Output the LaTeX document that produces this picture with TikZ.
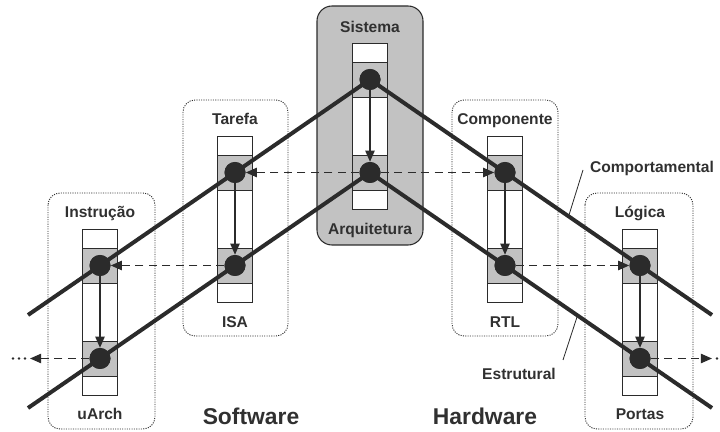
\documentclass[tikz,border=0pt]{standalone}
\usepackage{fontspec}
\setmainfont{Liberation Sans}
\usetikzlibrary{arrows.meta}
\definecolor{ink}{HTML}{2B2B2B}
\definecolor{txt}{HTML}{303030}
\definecolor{panel}{HTML}{C2C2C2}
\begin{document}
\begin{tikzpicture}[x=0.03cm,y=-0.03cm,
  every node/.style={text=txt,font=\bfseries\fontsize{13.3}{15}\selectfont},
  dotnode/.style={circle,fill=ink,draw=none,minimum size=0.63cm,inner sep=0pt},
  tailnode/.style={circle,fill=ink,draw=none,minimum size=2.4pt,inner sep=0pt},
  groupbox/.style={draw=ink,line width=0.8pt,dash pattern=on 0.9pt off 1.1pt,rounded corners=0.36cm},
  sysbox/.style={draw=ink,fill=panel,line width=0.9pt,rounded corners=0.45cm},
  barframe/.style={draw=ink,line width=0.8pt},
  mainline/.style={draw=ink,line width=3.4pt,line cap=butt,line join=miter},
  flow/.style={draw=ink,line width=1.1pt,-{Triangle[length=9.5pt,width=8pt]}},
  xlink/.style={flow,dash pattern=on 7pt off 4.5pt},
  leader/.style={draw=ink,line width=0.7pt},
  biglabel/.style={text=txt,font=\bfseries\fontsize{19.5}{22}\selectfont}]
\useasboundingbox (0,0) rectangle (720,432);

% group frames
\draw[sysbox] (317,6) rectangle (423,245);
\draw[groupbox] (48,193) rectangle (155,429);
\draw[groupbox] (183,100) rectangle (288,336);
\draw[groupbox] (452,100) rectangle (558,336);
\draw[groupbox] (585,193) rectangle (693,429);

% level bars: white body with two grey bands
\foreach \bx/\by in {100/229,235/136,370/43,505/136,640/229}{
  \filldraw[barframe,fill=white] (\bx-17.5,\by) rectangle (\bx+17.5,\by+166);
  \filldraw[barframe,fill=panel] (\bx-17.5,\by+19) rectangle (\bx+17.5,\by+54);
  \filldraw[barframe,fill=panel] (\bx-17.5,\by+112) rectangle (\bx+17.5,\by+147);
}

% group titles
\node[anchor=base] (tSis) at (370,33) {Sistema};
\node[anchor=base] (tArq) at (370,235) {Arquitetura};
\node[anchor=base] (tTar) at (235,125) {Tarefa};
\node[anchor=base] (tIsa) at (235,328) {ISA};
\node[anchor=base] (tCom) at (505,125) {Componente};
\node[anchor=base] (tRtl) at (505,328) {RTL};
\node[anchor=base] (tIns) at (100,218) {Instrução};
\node[anchor=base] (tUar) at (100,420) {uArch};
\node[anchor=base] (tLog) at (640,218) {Lógica};
\node[anchor=base] (tPor) at (640,420) {Portas};

% dots
\node[dotnode] (iA) at (100,265.5) {};
\node[dotnode] (iB) at (100,358.5) {};
\node[dotnode] (tA) at (235,172.5) {};
\node[dotnode] (tB) at (235,265.5) {};
\node[dotnode] (sA) at (370,79.5) {};
\node[dotnode] (sB) at (370,172.5) {};
\node[dotnode] (cA) at (505,172.5) {};
\node[dotnode] (cB) at (505,265.5) {};
\node[dotnode] (lA) at (640,265.5) {};
\node[dotnode] (lB) at (640,358.5) {};

% outer ends
\coordinate (behL) at (28,315);
\coordinate (behR) at (712,315);
\coordinate (strL) at (28,408);
\coordinate (strR) at (712,408);
\coordinate (outL) at (30,358.5);
\coordinate (outR) at (712,358.5);

% refinement inside each level
\draw[flow] (iA) -- (iB);
\draw[flow] (tA) -- (tB);
\draw[flow] (sA) -- (sB);
\draw[flow] (cA) -- (cB);
\draw[flow] (lA) -- (lB);

% cross links between levels
\draw[xlink] (sB) -- (tA);
\draw[xlink] (sB) -- (cA);
\draw[xlink] (tB) -- (iA);
\draw[xlink] (cB) -- (lA);
\draw[xlink] (iB) -- (outL);
\draw[xlink] (lB) -- (outR);
\node[tailnode] (dl1) at (13,358.5) {};
\node[tailnode] (dl2) at (19,358.5) {};
\node[tailnode] (dl3) at (25,358.5) {};
\node[tailnode] (dr1) at (717,358.5) {};
\node[tailnode] (dr2) at (723,358.5) {};

% behavioural and structural views
\draw[mainline] (behL) -- (iA.center) -- (tA.center) -- (sA.center) -- (cA.center) -- (lA.center) -- (behR);
\draw[mainline] (strL) -- (iB.center) -- (tB.center) -- (sB.center) -- (cB.center) -- (lB.center) -- (strR);

% redraw dots on top
\foreach \d in {iA,iB,tA,tB,sA,sB,cA,cB,lA,lB}{
  \fill[ink] (\d.center) circle (0.315cm);
}

% view labels
\node[anchor=base] (lblBeh) at (652,173) {Comportamental};
\node[anchor=base] (lblStr) at (519,380) {Estrutural};
\coordinate (ldB1) at (583,170);
\coordinate (ldB2) at (569,215);
\coordinate (ldS1) at (563,360);
\coordinate (ldS2) at (577,317);
\draw[leader] (ldB1) -- (ldB2);
\draw[leader] (ldS1) -- (ldS2);

% domain labels
\node[biglabel,anchor=base] (sw) at (251,425) {Software};
\node[biglabel,anchor=base] (hw) at (485,425) {Hardware};
\end{tikzpicture}
\end{document}
